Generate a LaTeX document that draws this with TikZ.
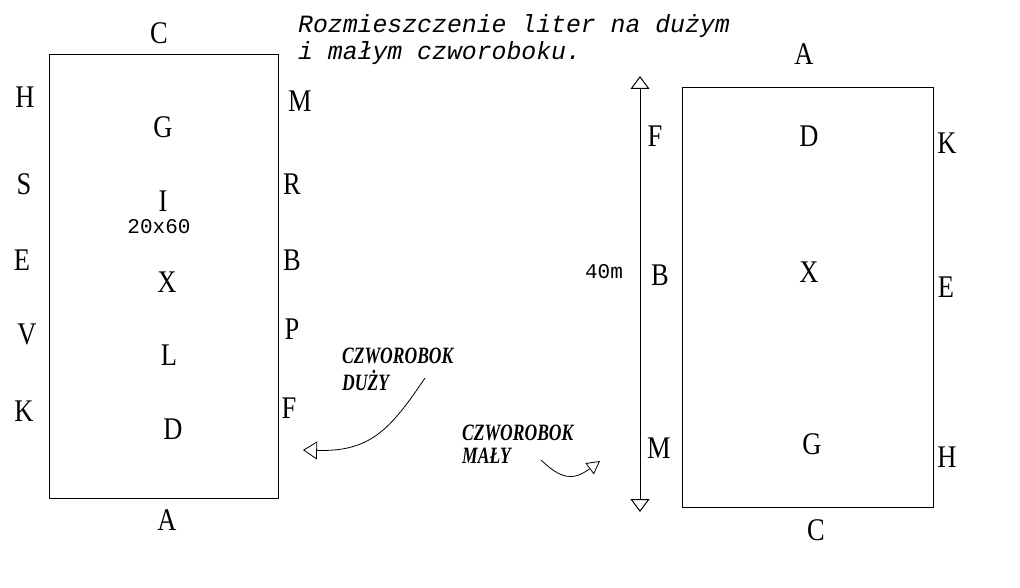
\documentclass[tikz,border=0pt]{standalone}
\usepackage{fontspec}
\setmainfont{Liberation Serif}
\newfontfamily\monofont{Liberation Mono}
\usetikzlibrary{arrows.meta}
\newcommand\bigltr[1]{\scalebox{0.84}[1]{\fontsize{31.5}{31.5}\selectfont #1}}
\newcommand\tallbl[1]{\scalebox{0.9}[1.2]{#1}}
\tikzset{
  ltr/.style={inner sep=0pt, text=black, font=\rmfamily},
  box/.style={draw=black, line width=1pt},
  lbl/.style={inner sep=0pt, font=\rmfamily\bfseries\itshape\fontsize{19.5}{22}\selectfont, align=left},
  meas/.style={inner sep=0pt, font=\monofont\fontsize{21}{21}\selectfont},
  conn/.style={line width=0.8pt, -{Triangle[open, length=14pt, width=18pt]}},
  twoway/.style={line width=1pt, {Triangle[open, length=13pt, width=19pt]}-{Triangle[open, length=13pt, width=19pt]}}
}
\begin{document}
\begin{tikzpicture}[x=1pt,y=-1pt]
\useasboundingbox (0,0) rectangle (1020,588);
\fill[white] (0,0) rectangle (1020,588);
% title
\node[anchor=west, inner sep=0pt, align=left, font=\monofont\itshape\fontsize{24.8}{27}\selectfont] (title) at (298,40) {Rozmieszczenie liter na dużym\\i małym czworoboku.};
% large rectangle
\node[box, minimum width=229pt, minimum height=444pt, inner sep=0pt, anchor=north west] (big) at (49,54) {};
\node[ltr] (bC) at (159,33) {\bigltr{C}};
\node[ltr] (bA) at (167,520) {\bigltr{A}};
\node[ltr] (bH) at (25,97) {\bigltr{H}};
\node[ltr] (bS) at (24,184) {\bigltr{S}};
\node[ltr] (bE) at (22,260) {\bigltr{E}};
\node[ltr] (bV) at (27,334) {\bigltr{V}};
\node[ltr] (bK) at (24,411) {\bigltr{K}};
\node[ltr] (bG) at (163,127) {\bigltr{G}};
\node[ltr] (bI) at (163,201) {\bigltr{I}};
\node[meas] (dim) at (159,227) {20x60};
\node[ltr] (bX) at (167,282) {\bigltr{X}};
\node[ltr] (bL) at (169,355) {\bigltr{L}};
\node[ltr] (bD) at (173,429) {\bigltr{D}};
\node[ltr] (bM) at (300,101) {\bigltr{M}};
\node[ltr] (bR) at (292,184) {\bigltr{R}};
\node[ltr] (bB) at (292,260) {\bigltr{B}};
\node[ltr] (bP) at (292,329) {\bigltr{P}};
\node[ltr] (bF) at (289,408) {\bigltr{F}};
% small rectangle
\node[box, minimum width=251pt, minimum height=420pt, inner sep=0pt, anchor=north west] (small) at (682,87) {};
\node[ltr] (sA) at (804,54) {\bigltr{A}};
\node[ltr] (sC) at (816,530) {\bigltr{C}};
\node[ltr] (sF) at (655,136) {\bigltr{F}};
\node[ltr] (sB) at (660,275) {\bigltr{B}};
\node[ltr] (sM) at (659,448) {\bigltr{M}};
\node[ltr] (sD) at (809,136) {\bigltr{D}};
\node[ltr] (sX) at (809,272) {\bigltr{X}};
\node[ltr] (sG) at (812,444) {\bigltr{G}};
\node[ltr] (sK) at (947,143) {\bigltr{K}};
\node[ltr] (sE) at (946,287) {\bigltr{E}};
\node[ltr] (sH) at (947,457) {\bigltr{H}};
\node[meas] (len) at (604,272) {40m};
% dimension arrow
\coordinate (dtop) at (640,76);
\coordinate (dbot) at (640,512);
\draw[twoway] (dtop) -- (dbot);
% labels
\node[lbl, anchor=west] (duzy1) at (342,356) {\tallbl{CZWOROBOK}};
\node[lbl, anchor=west] (duzy2) at (342,380) {\tallbl{DUŻY}};
\node[lbl, anchor=west] (maly1) at (462,433) {\tallbl{CZWOROBOK}};
\node[lbl, anchor=west] (maly2) at (462,456) {\tallbl{MAŁY}};
\coordinate (d1) at (425,378);
\coordinate (d2) at (303,450);
\draw[conn] (d1) .. controls (390,430) and (370,452) .. (d2);
\coordinate (m1) at (541,460);
\coordinate (m2) at (600,461);
\draw[line width=0.8pt, -{Triangle[open, length=13pt, width=14pt]}] (m1) .. controls (560,478) and (572,482) .. (m2);
\end{tikzpicture}
\end{document}
